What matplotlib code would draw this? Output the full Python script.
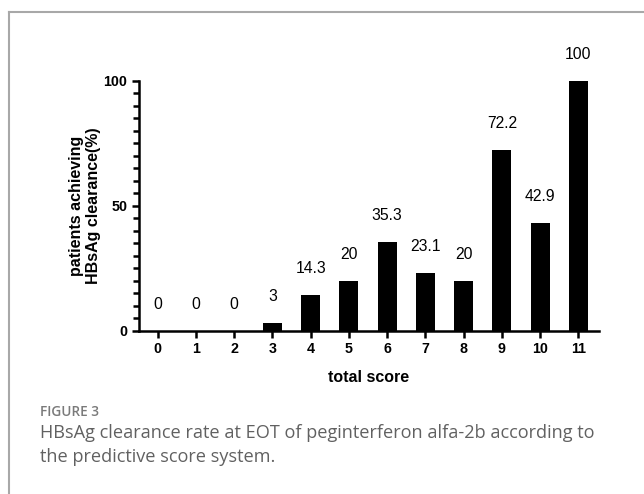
import numpy as np
import matplotlib.pyplot as plt
from matplotlib.lines import Line2D

# données
scores = np.arange(12)
clearance = [0, 0, 0, 3, 14.3, 20, 35.3, 23.1, 20, 72.2, 42.9, 100]
value_labels = ['0', '0', '0', '3', '14.3', '20', '35.3', '23.1', '20', '72.2', '42.9', '100']

W, H = 644, 494
fig = plt.figure(figsize=(W / 100, H / 100), dpi=100)
plt.rcParams['font.family'] = ['Liberation Sans', 'DejaVu Sans']

# cadre gris (haut et gauche)
fig.add_artist(Line2D([9 / W, 9 / W], [0, 1 - 11.7 / H], transform=fig.transFigure,
                      color='#a8a8a8', linewidth=1.5))
fig.add_artist(Line2D([9 / W, 1], [1 - 11.7 / H, 1 - 11.7 / H], transform=fig.transFigure,
                      color='#a8a8a8', linewidth=1.5))

ax = fig.add_axes([139 / W, 1 - 330.5 / H, (599 - 139) / W, (330.5 - 80.7) / H])
ax.bar(scores, clearance, width=0.5, color='black')

for x, v, lab in zip(scores, clearance, value_labels):
    ax.annotate(lab, (x, v), xytext=(0, 19), textcoords='offset points',
                ha='center', va='center', fontsize=11.3)

ax.set_xlim(-0.49, 11.54)
ax.set_ylim(0, 100)
ax.set_xticks(scores)
ax.set_yticks([0, 50, 100])
ax.set_yticks(np.arange(0, 101, 5), minor=True)

for s in ['top', 'right']:
    ax.spines[s].set_visible(False)
for s in ['left', 'bottom']:
    ax.spines[s].set_linewidth(1.8)

ax.tick_params(axis='both', which='both', direction='out', width=1.8, length=5, labelsize=10.3)
ax.tick_params(axis='y', which='minor', length=4.5)
for t in ax.get_xticklabels() + ax.get_yticklabels():
    t.set_fontweight('bold')

ax.set_xlabel('total score', fontsize=11.5, fontweight='bold', labelpad=10)
ax.set_ylabel('patients achieving\nHBsAg clearance(%)', fontsize=11.5, fontweight='bold',
              labelpad=2, linespacing=1.1)

# légende de la figure
fig.text(40 / W, 1 - 412 / H, 'FIGURE 3', fontsize=9.8, color='#7a7a7a',
         family='Open Sans', fontweight='semibold', va='center')
fig.text(40 / W, 1 - 445 / H,
         'HBsAg clearance rate at EOT of peginterferon alfa-2b according to\nthe predictive score system.',
         fontsize=13.1, color='#616161', family='Open Sans', va='center', linespacing=1.38)

fig.savefig('out.png', dpi=100)
